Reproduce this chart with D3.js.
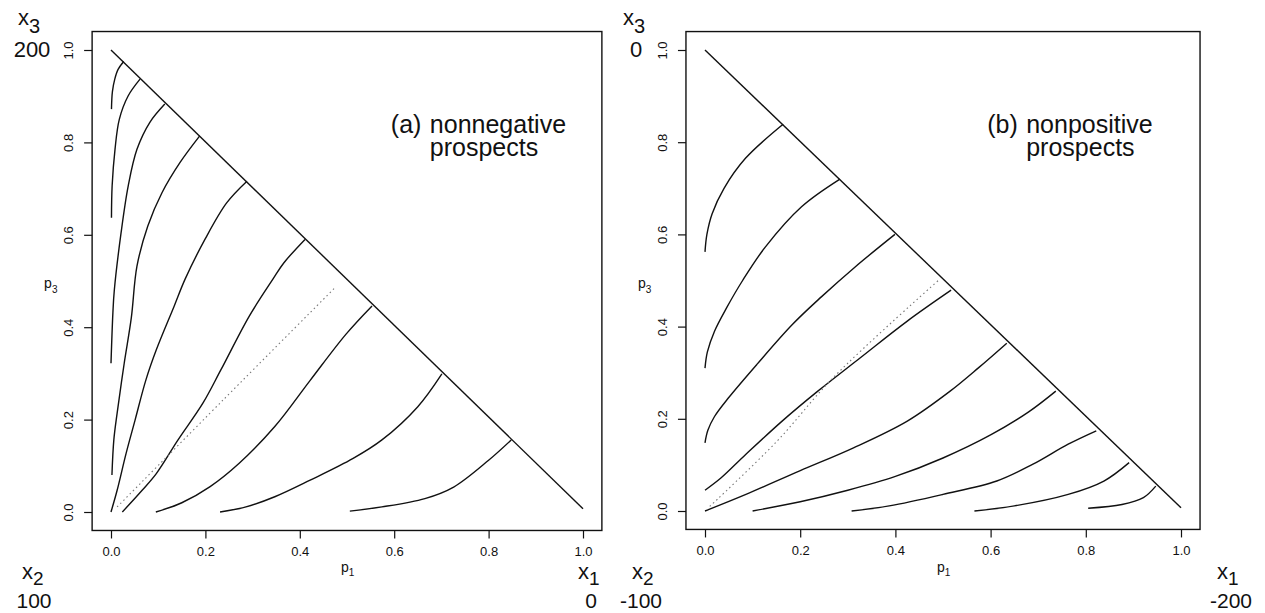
<!DOCTYPE html>
<html>
<head>
<meta charset="utf-8">
<script src="https://cdn.jsdelivr.net/npm/d3@7"></script>
<style>
body { margin: 0; background: #fff; }
svg { display: block; }
text { font-family: "Liberation Sans", Arial, Helvetica, sans-serif; fill: #111; }
</style>
</head>
<body>
<svg id="chart" width="1265" height="613"></svg>
<script>
// tick values on both axes
var tickValues = [0, 0.2, 0.4, 0.6, 0.8, 1.0];

// edge of the probability triangle p1 + p3 = 1
var hypotenuse = [[0, 1], [1, 0.007]];

// (a) nonnegative prospects - indifference curves [p1, p3]
var curvesA = [
  [[0.001, 0.872], [0.003, 0.91], [0.008, 0.937], [0.015, 0.958], [0.027, 0.975]],
  [[0.001, 0.637], [0.0024, 0.706], [0.0085, 0.785], [0.0176, 0.850], [0.0365, 0.901], [0.0615, 0.937]],
  [[0.0, 0.322], [0.004, 0.431], [0.007, 0.48], [0.0213, 0.604], [0.0365, 0.706], [0.055, 0.785], [0.082, 0.843], [0.114, 0.883]],
  [[0.002, 0.08], [0.006, 0.156], [0.013, 0.214], [0.028, 0.322], [0.043, 0.42], [0.055, 0.532], [0.078, 0.619], [0.108, 0.691], [0.146, 0.756], [0.188, 0.814]],
  [[0, 0], [0.013, 0.047], [0.032, 0.127], [0.051, 0.199], [0.074, 0.286], [0.096, 0.351], [0.134, 0.446], [0.157, 0.504], [0.199, 0.590], [0.245, 0.669], [0.288, 0.716]],
  [[0.024, 0], [0.066, 0.047], [0.096, 0.083], [0.142, 0.156], [0.195, 0.236], [0.233, 0.308], [0.293, 0.424], [0.343, 0.504], [0.366, 0.539], [0.411, 0.59]],
  [[0.095, 0], [0.15, 0.02], [0.21, 0.055], [0.271, 0.105], [0.347, 0.185], [0.422, 0.285], [0.498, 0.385], [0.553, 0.446]],
  [[0.231, 0], [0.286, 0.011], [0.347, 0.033], [0.422, 0.069], [0.513, 0.116], [0.574, 0.156], [0.65, 0.228], [0.701, 0.299]],
  [[0.506, 0.002], [0.574, 0.011], [0.665, 0.029], [0.726, 0.054], [0.80, 0.112], [0.848, 0.156]]
];
var dottedA = [[0.013, 0.011], [0.24, 0.245], [0.475, 0.486]];

// (b) nonpositive prospects
var curvesB = [
  [[0, 0.562], [0.004, 0.6], [0.015, 0.645], [0.04, 0.7], [0.085, 0.765], [0.164, 0.839]],
  [[0, 0.31], [0.005, 0.345], [0.02, 0.39], [0.045, 0.44], [0.079, 0.5], [0.127, 0.573], [0.2028, 0.66], [0.2835, 0.72]],
  [[0, 0.148], [0.006, 0.175], [0.02, 0.205], [0.049, 0.245], [0.109, 0.318], [0.184, 0.405], [0.245, 0.465], [0.316, 0.53], [0.399, 0.6]],
  [[0, 0.045], [0.034, 0.072], [0.086, 0.123], [0.162, 0.195], [0.237, 0.26], [0.327, 0.333], [0.425, 0.412], [0.517, 0.479]],
  [[0, 0], [0.086, 0.036], [0.199, 0.087], [0.312, 0.137], [0.425, 0.195], [0.515, 0.26], [0.575, 0.311], [0.634, 0.364]],
  [[0.1, 0], [0.2, 0.02], [0.3, 0.045], [0.4, 0.075], [0.5, 0.115], [0.6, 0.165], [0.68, 0.215], [0.737, 0.26]],
  [[0.308, 0], [0.387, 0.011], [0.5, 0.036], [0.613, 0.065], [0.688, 0.101], [0.763, 0.145], [0.822, 0.174]],
  [[0.566, 0], [0.65, 0.011], [0.763, 0.036], [0.838, 0.065], [0.891, 0.105]],
  [[0.805, 0.006], [0.876, 0.014], [0.921, 0.029], [0.947, 0.054]]
];
var dottedB = [[0.01, 0.01], [0.15, 0.15], [0.27, 0.29], [0.49, 0.5]];

// outcome values at the corners: x3, x2, x1
var outcomesA = ["200", "100", "0"];
var outcomesB = ["0", "-100", "-200"];
var titleA = ["(a)", "nonnegative", "prospects"];
var titleB = ["(b)", "nonpositive", "prospects"];

var svg = d3.select("#chart");

var panels = [
  { left: 111, right: 583, bottom: 512, top: 50, curves: curvesA, dotted: dottedA, outcomes: outcomesA, title: titleA,
    posX3: [18, 32], posX2: [22, 34], posX1: [578, 591] },
  { left: 705, right: 1181, bottom: 511, top: 50, curves: curvesB, dotted: dottedB, outcomes: outcomesB, title: titleB,
    posX3: [623, 636], posX2: [632, 641], posX1: [1217, 1231] }
];

function subLabel(g, letter, sub, x, y, size, subSize, shift) {
  var t = g.append("text").attr("x", x).attr("y", y).style("font-size", size + "px");
  t.append("tspan").text(letter);
  t.append("tspan").attr("dy", shift).style("font-size", subSize + "px").text(sub);
  return t;
}

panels.forEach(function(p) {
  var x = d3.scaleLinear().domain([0, 1]).range([p.left, p.right]);
  var y = d3.scaleLinear().domain([0, 1]).range([p.bottom, p.top]);
  var g = svg.append("g");

  // frame
  g.append("rect")
    .attr("x", x(-0.04)).attr("y", y(1.04))
    .attr("width", x(1.04) - x(-0.04)).attr("height", y(-0.04) - y(1.04))
    .attr("fill", "none").attr("stroke", "#111").attr("stroke-width", 1.4);

  var xAxis = g.append("g")
    .attr("transform", "translate(0," + y(-0.04) + ")")
    .call(d3.axisBottom(x).tickValues(tickValues).tickFormat(d3.format(".1f")).tickSize(8));
  xAxis.select(".domain").remove();
  xAxis.selectAll("line").attr("stroke", "#111").attr("stroke-width", 1.2);
  xAxis.selectAll("text").attr("y", 16).style("font-size", "13px").attr("fill", "#111");

  var yAxis = g.append("g")
    .attr("transform", "translate(" + x(-0.04) + ",0)")
    .call(d3.axisLeft(y).tickValues(tickValues).tickFormat(d3.format(".1f")).tickSize(8));
  yAxis.select(".domain").remove();
  yAxis.selectAll("line").attr("stroke", "#111").attr("stroke-width", 1.2);
  yAxis.selectAll("text")
    .attr("transform", "rotate(-90)")
    .attr("x", 0).attr("y", -24).attr("dy", "0.35em")
    .attr("text-anchor", "middle")
    .style("font-size", "13px").attr("fill", "#111");

  var line = d3.line().x(function(d) { return x(d[0]); }).y(function(d) { return y(d[1]); });
  var smooth = d3.line().curve(d3.curveCatmullRom.alpha(0.5))
    .x(function(d) { return x(d[0]); }).y(function(d) { return y(d[1]); });

  g.append("path").attr("d", line(hypotenuse))
    .attr("fill", "none").attr("stroke", "#111").attr("stroke-width", 1.4);

  g.selectAll(".curve").data(p.curves).enter().append("path")
    .attr("class", "curve")
    .attr("d", smooth)
    .attr("fill", "none").attr("stroke", "#111").attr("stroke-width", 1.4);

  g.append("path").attr("d", smooth(p.dotted))
    .attr("fill", "none").attr("stroke", "#777").attr("stroke-width", 1.1)
    .attr("stroke-dasharray", "1.5,3");

  // panel title: label plus a two-line block
  var tx = x(0.595), ty = y(0.82);
  g.append("text").attr("x", tx - 1).attr("y", ty).style("font-size", "25px").text(p.title[0]);
  var tt = g.append("text").attr("x", tx + 38).attr("y", ty).style("font-size", "25px");
  tt.append("tspan").attr("x", tx + 38).text(p.title[1]);
  tt.append("tspan").attr("x", tx + 38).attr("dy", 23).text(p.title[2]);

  // axis titles
  subLabel(g, "p", "1", (p.left + p.right) / 2 - 6, 572, 14, 10, 4);
  subLabel(g, "p", "3", x(-0.04) - 48, 288, 14, 10, 5);

  // corner outcomes
  subLabel(g, "x", "3", p.posX3[0], 25, 22, 20, 8);
  g.append("text").attr("x", p.posX3[1]).attr("y", 57).attr("text-anchor", "middle").style("font-size", "22px").text(p.outcomes[0]);
  subLabel(g, "x", "2", p.posX2[0], 579, 22, 19, 6);
  g.append("text").attr("x", p.posX2[1]).attr("y", 608).attr("text-anchor", "middle").style("font-size", "21px").text(p.outcomes[1]);
  subLabel(g, "x", "1", p.posX1[0], 579, 22, 19, 6);
  g.append("text").attr("x", p.posX1[1]).attr("y", 608).attr("text-anchor", "middle").style("font-size", "21px").text(p.outcomes[2]);
});
</script>
</body>
</html>
